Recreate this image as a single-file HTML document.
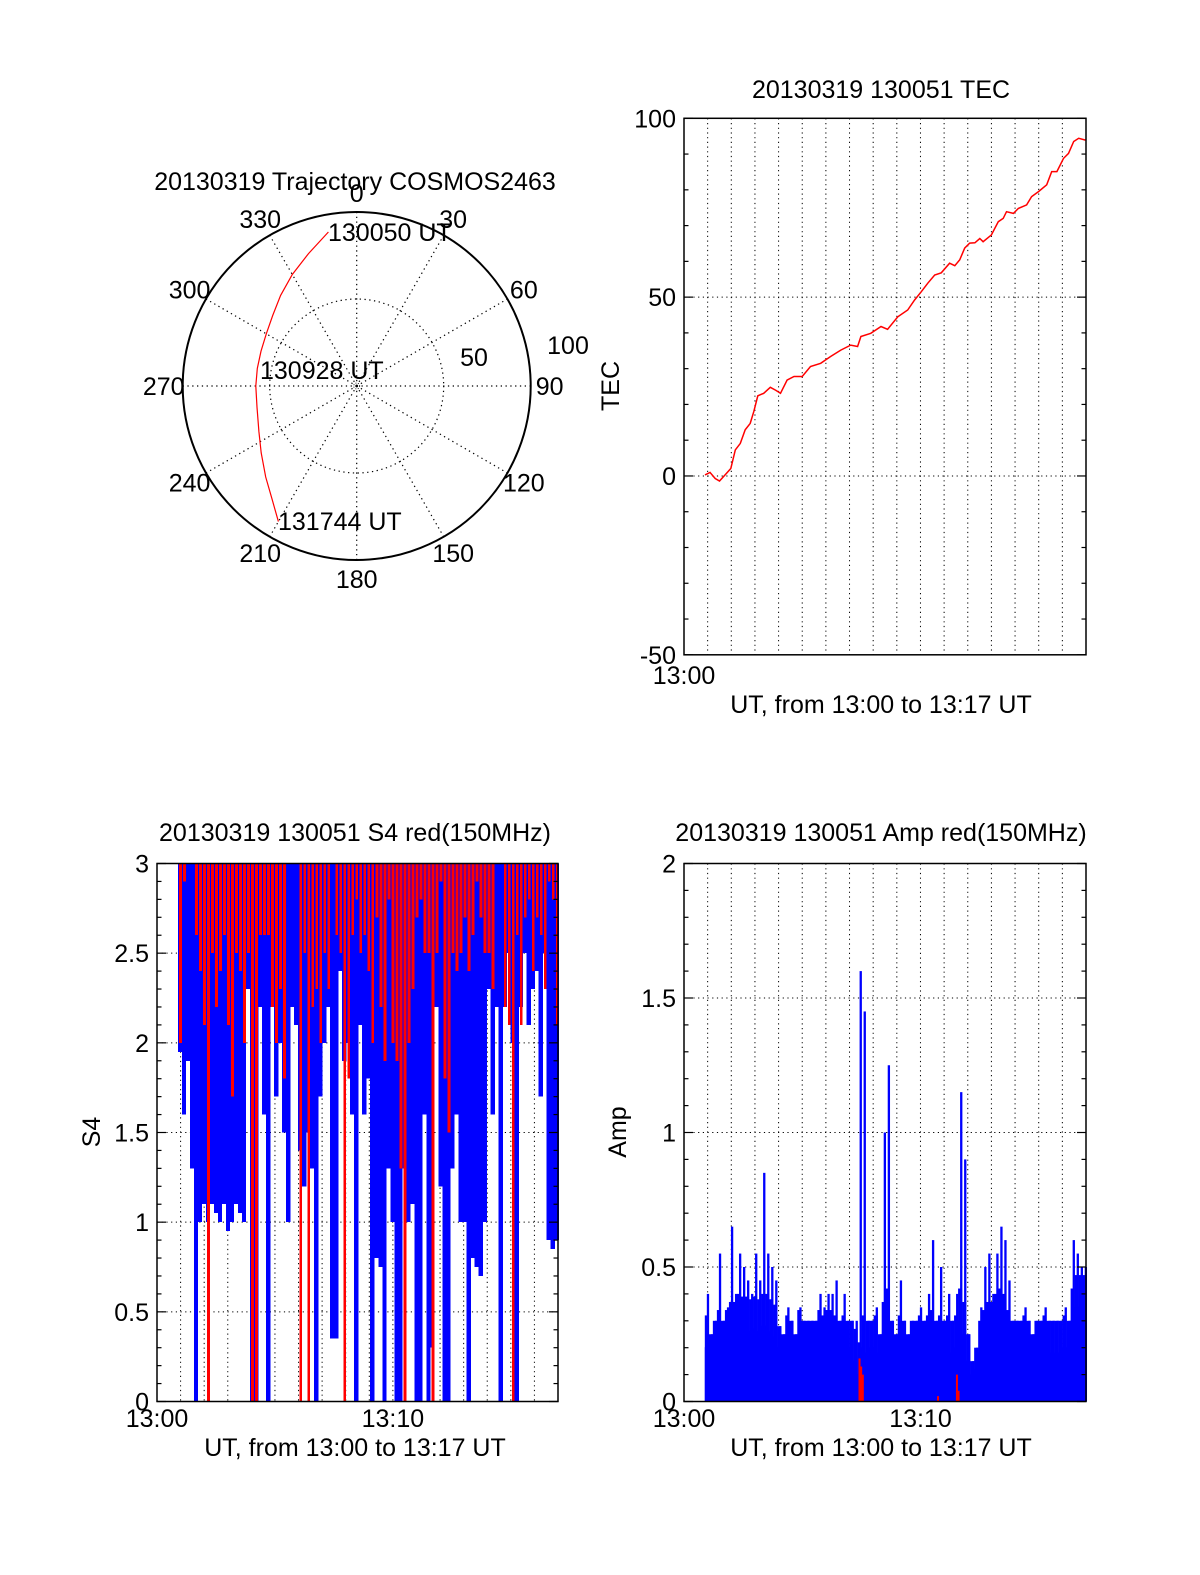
<!DOCTYPE html>
<html><head><meta charset="utf-8"><style>
html,body{margin:0;padding:0;background:#fff;}
svg{display:block;font-family:"Liberation Sans",Arial,sans-serif;}
text{font-size:25px;fill:#000;}
</style></head><body>
<svg id="fig" width="1200" height="1575" viewBox="0 0 1200 1575" xmlns="http://www.w3.org/2000/svg">
<rect x="0" y="0" width="1200" height="1575" fill="#fff"/>
<g id="polar"></g>
<g id="tec"></g>
<g id="s4"></g>
<g id="amp"></g>
</svg>
<script>
// ---- data ----
const trajAz = [349.6,340,330,320,310,300,290,280,270,258,245,235,225,217,210];
const trajR  = [90,81,74,68,63,60,58.5,58,58,58.6,62,67,74,81,90];
const polarAngleLabels = ["0","30","60","90","120","150","180","210","240","270","300","330"];

const tecTime = [0.89,1.10,1.32,1.50,1.74,1.98,2.17,2.38,2.59,2.80,2.95,3.12,3.37,3.65,3.87,4.08,4.36,4.65,5.00,5.35,5.78,6.20,6.63,7.05,7.34,7.48,7.90,8.33,8.61,9.04,9.46,9.75,10.03,10.31,10.60,10.88,11.23,11.45,11.66,11.87,12.08,12.30,12.51,12.65,13.00,13.29,13.50,13.64,13.93,14.14,14.49,14.70,14.99,15.34,15.55,15.77,16.05,16.26,16.48,16.69,16.98];
const tecValue = [0.3,1,-0.7,-1.4,0.3,2.1,7.3,9.1,12.9,14.7,18,22.4,23.1,24.8,24,23.1,26.8,27.8,27.8,30.6,31.5,33.4,35.2,36.6,36.2,39,39.9,41.8,41,44.5,46.4,49.2,51.5,53.9,56.2,56.8,59.5,58.8,60.4,63.7,65.1,65.2,66.4,65.5,67.4,71.1,72,73.9,73.4,74.8,75.8,78.1,79.5,81.4,85.1,85.1,88.8,90.2,93.5,94.4,93.9];
const tecTicks = [100,50,0,-50];

const binStart = 0.88;   // minutes
const binStep = 0.17;   // minutes
const s4Blue = [1.95,1.6,1.9,1.3,0,1.0,1.1,1.0,1.1,1.05,1.0,1.1,0.95,1.0,1.1,1.05,1.0,2.3,0,0,2.2,1.6,0,2.2,1.7,2.0,1.5,1.0,2.2,2.1,1.4,1.2,1.5,1.3,0,1.7,2.0,2.2,0.35,0.35,2.4,1.9,2.0,1.6,0,2.1,1.6,1.8,0,0.8,0.75,0,1.3,1.0,0,0,1.3,1.0,1.1,0,0,1.6,0,0.3,2.2,1.2,0,0,1.3,1.6,1.0,1.0,0,0.8,0.75,0.7,1.0,2.3,1.6,2.2,0,2.2,2.5,2.0,0,2.2,2.5,2.1,2.3,2.4,1.7,2.5,0.9,0.85,0.9];
const s4Red = [2.0,2.9,3,3,2.6,2.4,2.1,0,2.5,2.2,2.4,2.6,2.1,1.7,2.5,2.4,2.0,2.5,0,0,2.6,2.6,2.6,2.2,2.0,2.3,1.8,3,3,3,0,2.5,0,2.2,2.3,2.0,2.5,2.3,3,2.6,2.5,0,1.8,2.6,2.8,2.5,2.6,2.4,2.0,2.7,2.2,1.9,2.8,2.0,1.9,1.3,0,2.0,2.3,2.7,2.8,2.5,2.5,0,2.5,2.9,1.8,1.5,2.5,2.4,2.5,2.7,2.4,2.6,2.9,2.7,2.5,2.5,2.3,3,3,2.2,2.1,0,2.6,2.1,2.7,2.8,2.4,2.7,2.6,2.3,2.9,2.8,2.1];
const s4Ticks = ["0","0.5","1","1.5","2","2.5","3"];

const ampBlue = [0.4,0.25,0.3,0.55,0.3,0.35,0.65,0.4,0.55,0.5,0.45,0.4,0.55,0.45,0.85,0.55,0.5,0.45,0.28,0.25,0.35,0.3,0.25,0.35,0.3,0.3,0.3,0.3,0.4,0.35,0.4,0.4,0.45,0.3,0.4,0.3,0.3,0.3,1.6,1.45,0.3,0.3,0.35,0.25,1.0,1.25,0.3,0.25,0.45,0.3,0.25,0.3,0.3,0.35,0.3,0.4,0.6,0.3,0.5,0.3,0.4,0.3,0.4,1.15,0.9,0.25,0.15,0.2,0.35,0.5,0.55,0.4,0.55,0.65,0.6,0.45,0.3,0.3,0.3,0.35,0.3,0.25,0.3,0.3,0.35,0.3,0.3,0.3,0.3,0.35,0.3,0.6,0.55,0.5,0.5];
const ampFloor = [0.2,0.18,0.2,0.22,0.2,0.22,0.25,0.25,0.28,0.27,0.27,0.26,0.27,0.26,0.28,0.28,0.26,0.24,0.2,0.18,0.2,0.2,0.2,0.22,0.2,0.2,0.2,0.2,0.22,0.2,0.22,0.22,0.2,0.2,0.2,0.18,0.2,0.15,0.1,0.2,0.18,0.2,0.2,0.18,0.25,0.3,0.18,0.15,0.2,0.18,0.18,0.2,0.18,0.2,0.18,0.2,0.22,0.18,0.2,0.18,0.2,0.18,0.2,0.3,0.25,0.15,0.1,0.12,0.18,0.22,0.25,0.25,0.28,0.3,0.28,0.22,0.2,0.18,0.18,0.2,0.18,0.15,0.18,0.18,0.2,0.18,0.18,0.18,0.18,0.2,0.2,0.3,0.35,0.35,0.35];
const ampRedTime = [7.38,7.45,7.52,10.7,11.5,11.57];
const ampRedValue = [0.16,0.13,0.1,0.02,0.1,0.04];
const ampTicks = ["0","0.5","1","1.5","2"];

// ---- helpers ----
const NS = "http://www.w3.org/2000/svg";
function el(parent, tag, attrs, txt){
  const e = document.createElementNS(NS, tag);
  for (const k in attrs) e.setAttribute(k, attrs[k]);
  if (txt !== undefined) e.textContent = txt;
  parent.appendChild(e);
  return e;
}
function label(parent, x, y, s, anchor, name){
  const t = el(parent, "text", {x:x, y:y, "text-anchor":anchor||"middle"}, s);
  
  
  return t;
}

// ---- polar ----
(function(){
  const g = document.getElementById("polar");
  const cx = 356.7, cy = 386, R = 174, rMax = 100;
  const rs = r => r / rMax * R;
  for (let a = 0; a < 360; a += 30) {
    const rad = a * Math.PI / 180;
    const sp = el(g, "line", {x1:cx, y1:cy, x2:cx + R*Math.sin(rad), y2:cy - R*Math.cos(rad), stroke:"#000", "stroke-width":1.2, "stroke-dasharray":"1.3,3.5"});
    
    
  }
  const ic = el(g, "circle", {cx:cx, cy:cy, r:rs(50), fill:"none", stroke:"#000", "stroke-width":1.2, "stroke-dasharray":"1.3,3.5"});
  
  
  const oc = el(g, "circle", {cx:cx, cy:cy, r:R, fill:"none", stroke:"#000", "stroke-width":2});
  
  
  el(g, "circle", {cx:cx, cy:cy, r:3, fill:"none", stroke:"#000", "stroke-width":0.8, "stroke-dasharray":"1,1.5"});
  let d = "";
  trajAz.forEach((a, i) => {
    const rad = a * Math.PI / 180, r = rs(trajR[i]);
    d += (i ? "L" : "M") + (cx + r*Math.sin(rad)).toFixed(1) + "," + (cy - r*Math.cos(rad)).toFixed(1);
  });
  const tr = el(g, "path", {d:d, fill:"none", stroke:"#f00", "stroke-width":1.2});
  
  
  polarAngleLabels.forEach((s, i) => {
    const rad = i * 30 * Math.PI / 180, rl = 193;
    label(g, cx + rl*Math.sin(rad), cy - rl*Math.cos(rad) + 9, s, "middle", "angle-label");
  });
  label(g, 568, 354, "100", "middle", "radius-label-100");
  label(g, 474, 366, "50", "middle", "radius-label-50");
  label(g, 328, 241, "130050 UT", "start", "start-time-label");
  label(g, 260, 379, "130928 UT", "start", "mid-time-label");
  label(g, 278, 530, "131744 UT", "start", "end-time-label");
  label(g, 355, 190, "20130319 Trajectory COSMOS2463", "middle", "polar-title");
})();

// ---- generic axes ----
function frame(g, L, T, W, H, yMin, yMax, majorStep, minorStep, hGrid){
  const xs = m => L + m / 17 * W;
  const ys = v => T + (yMax - v) / (yMax - yMin) * H;
  for (let m = 1; m < 17; m++) {
    const gl = el(g, "line", {x1:xs(m), y1:T, x2:xs(m), y2:T+H, stroke:"#000", "stroke-width":1, "stroke-dasharray":"1.2,3.5"});
    
    
  }
  hGrid.forEach(v => {
    const hl = el(g, "line", {x1:L, y1:ys(v), x2:L+W, y2:ys(v), stroke:"#000", "stroke-width":1, "stroke-dasharray":"1.2,3.5"});
    
    
  });
  return {xs, ys};
}
function frameTop(g, L, T, W, H, yMin, yMax, majorStep, minorStep){
  const ys = v => T + (yMax - v) / (yMax - yMin) * H;
  const n = Math.round((yMax - yMin) / minorStep);
  for (let i = 0; i <= n; i++) {
    const v = yMin + i * minorStep;
    const major = Math.abs(v / majorStep - Math.round(v / majorStep)) < 1e-6;
    const len = major ? 9 : 4.5;
    el(g, "line", {x1:L, y1:ys(v), x2:L+len, y2:ys(v), stroke:"#000", "stroke-width":1.2});
    el(g, "line", {x1:L+W-len, y1:ys(v), x2:L+W, y2:ys(v), stroke:"#000", "stroke-width":1.2});
  }
  const b = el(g, "rect", {x:L, y:T, width:W, height:H, fill:"none", stroke:"#000", "stroke-width":1.5});
  
  
}

// ---- TEC ----
(function(){
  const g = document.getElementById("tec");
  const L = 684, T = 118.3, W = 402, H = 536.5;
  const {xs, ys} = frame(g, L, T, W, H, -50, 100, 50, 10, [50, 0]);
  let d = "";
  tecTime.forEach((t, i) => { d += (i ? "L" : "M") + xs(t).toFixed(1) + "," + ys(tecValue[i]).toFixed(1); });
  const ln = el(g, "path", {d:d, fill:"none", stroke:"#f00", "stroke-width":1.5});
  
  
  frameTop(g, L, T, W, H, -50, 100, 50, 10);
  tecTicks.forEach(v => label(g, L - 8, ys(v) + 9, String(v), "end", "y-tick-label"));
  label(g, L, 684, "13:00", "middle", "x-tick-label");
  label(g, 881, 713, "UT, from 13:00 to 13:17 UT", "middle", "x-axis-title");
  label(g, 881, 98, "20130319 130051 TEC", "middle", "tec-title");
  const yt = label(g, 0, 0, "TEC", "middle", "y-axis-title");
  yt.setAttribute("transform", "translate(619,386) rotate(-90)");
})();

// ---- S4 ----
(function(){
  const g = document.getElementById("s4");
  const L = 157, T = 863.5, W = 401, H = 538;
  const {xs, ys} = frame(g, L, T, W, H, 0, 3, 0.5, 0.1, [0.5,1,1.5,2,2.5]);
  const bw = binStep / 17 * W;
  s4Blue.forEach((v, i) => {
    const x = xs(binStart + i * binStep);
    const r = el(g, "rect", {x:x, y:T, width:bw + 0.3, height:ys(v) - T, fill:"#00f", "shape-rendering":"crispEdges"});
    
    
  });
  s4Red.forEach((v, i) => {
    const x = xs(binStart + i * binStep) + bw * 0.3;
    const r = el(g, "rect", {x:x, y:T, width:bw * 0.7, height:Math.max(0, ys(v) - T), fill:"#f00", "shape-rendering":"crispEdges"});
    
    
  });
  frameTop(g, L, T, W, H, 0, 3, 0.5, 0.1);
  s4Ticks.forEach(s => label(g, L - 8, ys(parseFloat(s)) + 9, s, "end", "y-tick-label"));
  label(g, xs(0), 1427, "13:00", "middle", "x-tick-label");
  label(g, xs(10), 1427, "13:10", "middle", "x-tick-label");
  label(g, 355, 1456, "UT, from 13:00 to 13:17 UT", "middle", "x-axis-title");
  label(g, 355, 841, "20130319 130051 S4 red(150MHz)", "middle", "s4-title");
  const yt = label(g, 0, 0, "S4", "middle", "y-axis-title");
  yt.setAttribute("transform", "translate(100,1132) rotate(-90)");
})();

// ---- Amp ----
(function(){
  const g = document.getElementById("amp");
  const L = 684, T = 863.5, W = 402, H = 538;
  const {xs, ys} = frame(g, L, T, W, H, 0, 2, 0.5, 0.1, [0.5,1,1.5]);
  const bw = binStep / 17 * W;
  ampBlue.forEach((v, i) => {
    const x = xs(binStart + i * binStep);
    const r = el(g, "rect", {x:x, y:ys(ampFloor[i]) - 0.5, width:bw * 0.5, height:ys(0) - ys(ampFloor[i]) + 0.5, fill:"#00f"});
    
    
    const r2 = el(g, "rect", {x:x + bw * 0.5, y:ys(v), width:bw * 0.5 + 0.3, height:ys(0) - ys(v), fill:"#00f"});
    
    
    const r3 = el(g, "rect", {x:x, y:ys(Math.min(v, ampFloor[i] + 0.12)), width:bw, height:ys(0) - ys(Math.min(v, ampFloor[i] + 0.12)), fill:"#00f"});
    
    
  });
  ampRedTime.forEach((t, i) => {
    const r = el(g, "rect", {x:xs(t), y:ys(ampRedValue[i]), width:2, height:ys(0) - ys(ampRedValue[i]), fill:"#f00"});
    
    
  });
  frameTop(g, L, T, W, H, 0, 2, 0.5, 0.1);
  ampTicks.forEach(s => label(g, L - 8, ys(parseFloat(s)) + 9, s, "end", "y-tick-label"));
  label(g, xs(0), 1427, "13:00", "middle", "x-tick-label");
  label(g, xs(10), 1427, "13:10", "middle", "x-tick-label");
  label(g, 881, 1456, "UT, from 13:00 to 13:17 UT", "middle", "x-axis-title");
  label(g, 881, 841, "20130319 130051 Amp red(150MHz)", "middle", "amp-title");
  const yt = label(g, 0, 0, "Amp", "middle", "y-axis-title");
  yt.setAttribute("transform", "translate(626,1132) rotate(-90)");
})();
</script>
</body></html>
